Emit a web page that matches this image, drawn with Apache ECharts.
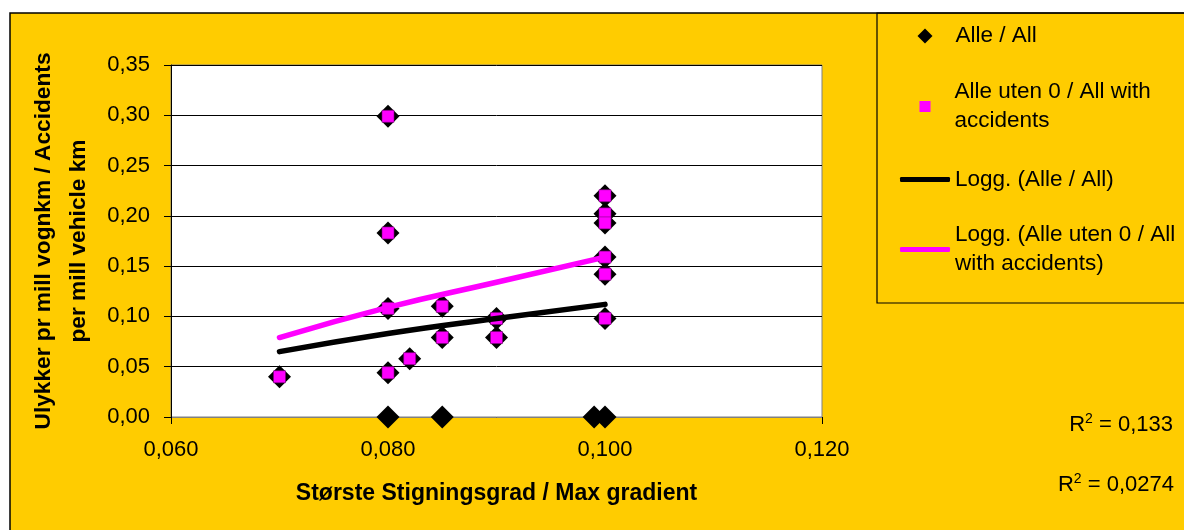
<!DOCTYPE html>
<html>
<head>
<meta charset="utf-8">
<script src="https://cdn.jsdelivr.net/npm/echarts@6/dist/echarts.min.js"></script>
<style>
  html, body { margin: 0; padding: 0; background: #fff; }
  #main { width: 1184px; height: 530px; }
</style>
</head>
<body>
<div id="main"></div>
<script>
// Alle / All  (gradient, accidents per mill vehicle km)
var allGradient = [0.070, 0.080, 0.080, 0.080, 0.080, 0.080, 0.082, 0.085, 0.085, 0.085,
  0.090, 0.090, 0.099, 0.100, 0.100, 0.100, 0.100, 0.100, 0.100, 0.100]
var allRate = [0.040, 0.299, 0.183, 0.108, 0.044, 0.000, 0.058, 0.110, 0.079, 0.000,
  0.098, 0.079, 0.000, 0.220, 0.202, 0.193, 0.159, 0.142, 0.098, 0.000]
// Alle uten 0 / All with accidents
var accGradient = [0.070, 0.080, 0.080, 0.080, 0.080, 0.082, 0.085, 0.085,
  0.090, 0.090, 0.100, 0.100, 0.100, 0.100, 0.100, 0.100]
var accRate = [0.040, 0.299, 0.183, 0.108, 0.044, 0.058, 0.110, 0.079,
  0.098, 0.079, 0.220, 0.202, 0.193, 0.159, 0.142, 0.098]
// log trend lines
var trendGradient = [0.070, 0.080, 0.090, 0.100]
var trendAll = [0.065, 0.083, 0.098, 0.112]
var trendAcc = [0.079, 0.109, 0.134, 0.159]
var r2Labels = ['0,133', '0,0274']

var names = ['Alle / All', 'Alle uten 0 / All with accidents', 'Logg. (Alle / All)',
  'Logg. (Alle uten 0 / All with accidents)']
var legendText = {}
legendText[names[0]] = 'Alle / All'
legendText[names[1]] = 'Alle uten 0 / All with\naccidents'
legendText[names[2]] = 'Logg. (Alle / All)'
legendText[names[3]] = 'Logg. (Alle uten 0 / All\nwith accidents)'

function zip (xs, ys) {
  return xs.map(function (x, i) { return [x, ys[i]] })
}

var font = 'Liberation Sans, Arial, sans-serif'
var yellow = '#FFCC00'

// one legend per entry so each row sits where the reference puts it
function legendFor (name, icon, w, h, top, padLeft, twoLines) {
  return {
    data: [{ name: name, icon: icon }],
    left: 925 - w / 2,
    top: top,
    padding: 0,
    itemWidth: w,
    itemHeight: h,
    itemStyle: { borderWidth: 0 },
    formatter: function (n) { return legendText[n] },
    textStyle: {
      fontFamily: font,
      fontSize: 22.5,
      color: '#000',
      lineHeight: 29,
      padding: [twoLines ? 29 : 0, 0, 0, padLeft]
    }
  }
}

var chart = echarts.init(document.getElementById('main'))
var option = {
  backgroundColor: 'transparent',
  animation: false,
  grid: {
    left: 171,
    top: 65,
    right: 362,
    bottom: 113,
    show: true,
    backgroundColor: '#fff',
    borderColor: '#808080',
    borderWidth: 1
  },
  legend: [
    legendFor(names[0], 'diamond', 15, 15, 21.5, 18, false),
    legendFor(names[1], 'rect', 11, 11, 63, 19, true),
    legendFor(names[2], 'roundRect', 50, 5, 165, 0, false),
    legendFor(names[3], 'roundRect', 50, 5, 206, 0, true)
  ],
  xAxis: {
    type: 'value',
    min: 0.06,
    max: 0.12,
    interval: 0.02,
    name: 'Største Stigningsgrad / Max gradient',
    nameLocation: 'middle',
    nameGap: 63,
    nameTextStyle: { fontFamily: font, fontSize: 23, fontWeight: 'bold', color: '#000', lineHeight: 27 },
    axisLine: { show: true, lineStyle: { color: '#808080', width: 1 } },
    axisTick: { show: true, length: 7, lineStyle: { color: '#000' } },
    splitLine: { show: false },
    axisLabel: {
      margin: 22,
      fontFamily: font,
      fontSize: 22,
      color: '#000',
      formatter: function (v) { return v.toFixed(3).replace('.', ',') }
    }
  },
  yAxis: {
    type: 'value',
    min: 0,
    max: 0.35,
    interval: 0.05,
    name: 'Ulykker pr mill vognkm / Accidents\nper mill vehicle km',
    nameLocation: 'middle',
    nameRotate: 90,
    nameGap: 64,
    nameTextStyle: { fontFamily: font, fontSize: 22.7, fontWeight: 'bold', color: '#000', lineHeight: 35 },
    axisLine: { show: true, lineStyle: { color: '#000', width: 1 } },
    axisTick: { show: true, length: 7, lineStyle: { color: '#000' } },
    splitLine: { show: true, lineStyle: { color: '#000', width: 1 } },
    axisLabel: {
      margin: 21,
      fontFamily: font,
      fontSize: 22,
      color: '#000',
      formatter: function (v) { return v.toFixed(2).replace('.', ',') }
    }
  },
  series: [
    {
      name: names[0],
      type: 'scatter',
      clip: false,
      symbol: 'diamond',
      symbolSize: 23,
      itemStyle: { color: '#000', opacity: 1 },
      data: zip(allGradient, allRate),
      z: 2
    },
    {
      name: names[1],
      type: 'scatter',
      clip: false,
      symbol: 'rect',
      symbolSize: 12,
      itemStyle: { color: '#FF00FF', borderColor: '#800080', borderWidth: 0.6, opacity: 1 },
      data: zip(accGradient, accRate),
      z: 3
    },
    {
      name: names[2],
      type: 'line',
      smooth: true,
      symbol: 'none',
      lineStyle: { color: '#000', width: 5.5, cap: 'round' },
      itemStyle: { color: '#000' },
      data: zip(trendGradient, trendAll),
      z: 4
    },
    {
      name: names[3],
      type: 'line',
      smooth: true,
      symbol: 'none',
      lineStyle: { color: '#FF00FF', width: 5.5, cap: 'round' },
      itemStyle: { color: '#FF00FF' },
      data: zip(trendGradient, trendAcc),
      z: 5
    }
  ],
  graphic: [
    {
      type: 'rect',
      z: -10,
      silent: true,
      shape: { x: 10, y: 13, width: 1190, height: 530 },
      style: { fill: yellow, stroke: '#000', lineWidth: 1.5 }
    },
    {
      type: 'rect',
      z: 1,
      silent: true,
      shape: { x: 877, y: 13, width: 320, height: 290 },
      style: { fill: 'none', stroke: '#000', lineWidth: 1.2 }
    },
    {
      type: 'text',
      z: 10,
      x: 1173,
      y: 425,
      style: {
        text: 'R{s|2} = ' + r2Labels[0],
        align: 'right',
        verticalAlign: 'middle',
        fill: '#000',
        fontFamily: font,
        fontSize: 22,
        rich: { s: { fontSize: 14, fontFamily: font, padding: [0, 0, 12, 0] } }
      }
    },
    {
      type: 'text',
      z: 10,
      x: 1174,
      y: 485,
      style: {
        text: 'R{s|2} = ' + r2Labels[1],
        align: 'right',
        verticalAlign: 'middle',
        fill: '#000',
        fontFamily: font,
        fontSize: 22,
        rich: { s: { fontSize: 14, fontFamily: font, padding: [0, 0, 12, 0] } }
      }
    }
  ]
}
chart.setOption(option)
</script>
</body>
</html>
